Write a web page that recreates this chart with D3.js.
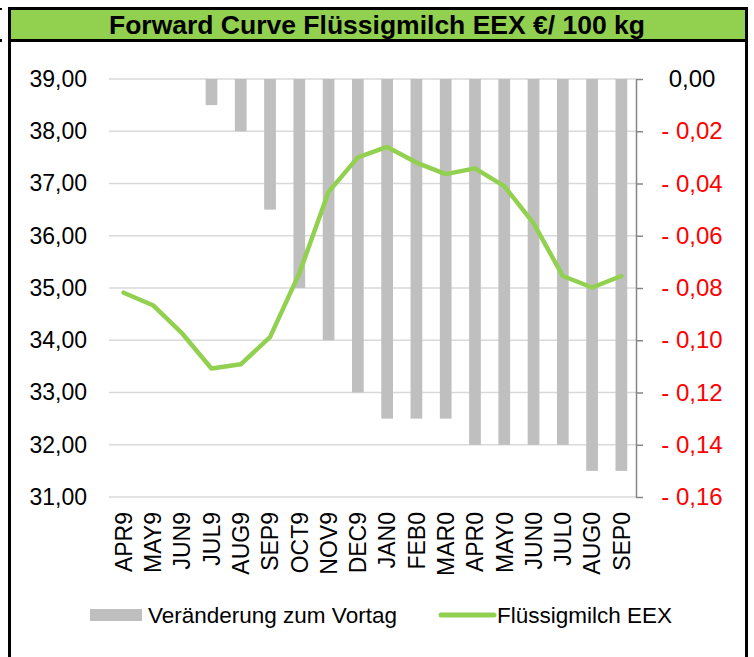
<!DOCTYPE html>
<html>
<head>
<meta charset="utf-8">
<script src="https://cdn.jsdelivr.net/npm/d3@7"></script>
<style>
  html, body { margin: 0; padding: 0; background: #fff; }
  svg { display: block; font-family: "Liberation Sans", Arial, sans-serif; }
</style>
</head>
<body>
<svg id="chart" width="754" height="657"></svg>
<script>
// ---- data ----
const categories = ["APR9","MAY9","JUN9","JUL9","AUG9","SEP9","OCT9","NOV9","DEC9",
                    "JAN0","FEB0","MAR0","APR0","MAY0","JUN0","JUL0","AUG0","SEP0"];
const changeValues = [0, 0, 0, -0.01, -0.02, -0.05, -0.08, -0.10, -0.12,
                      -0.13, -0.13, -0.13, -0.14, -0.14, -0.14, -0.14, -0.15, -0.15];
const priceValues = [34.91, 34.67, 34.13, 33.46, 33.54, 34.06, 35.28, 36.84, 37.50,
                     37.70, 37.40, 37.18, 37.29, 36.95, 36.24, 35.23, 35.01, 35.23];
const leftTicks = [31, 32, 33, 34, 35, 36, 37, 38, 39];
const rightTicks = [0, -0.02, -0.04, -0.06, -0.08, -0.10, -0.12, -0.14, -0.16];
const titleText = "Forward Curve Flüssigmilch EEX €/ 100 kg";
const legendBarLabel = "Veränderung zum Vortag";
const legendLineLabel = "Flüssigmilch EEX";

// ---- layout ----
const svg = d3.select("#chart");
const plot = { left: 109, right: 636, top: 79, bottom: 497 };
const green = "#92D050", barGray = "#BFBFBF", gridGray = "#D9D9D9";

// frame
svg.append("rect").attr("x", 11).attr("y", 10).attr("width", 734).attr("height", 29).attr("fill", green);
const black = [
  [8, 7, 740, 3], [8, 39, 740, 3], [8, 7, 3, 650], [745, 7, 3, 650],
  [0, 8, 2, 2], [0, 39, 2, 3]
];
svg.selectAll("rect.frame").data(black).enter().append("rect")
  .attr("class", "frame")
  .attr("x", d => d[0]).attr("y", d => d[1]).attr("width", d => d[2]).attr("height", d => d[3])
  .attr("fill", "#000");

svg.append("text")
  .attr("x", 377).attr("y", 25).attr("dy", "0.35em")
  .attr("text-anchor", "middle")
  .attr("font-size", 26.5).attr("font-weight", "bold")
  .attr("fill", "#000")
  .text(titleText);

// scales
const x = d3.scaleBand().domain(categories).range([plot.left, plot.right])
  .paddingInner(0.6).paddingOuter(0.3);
const yL = d3.scaleLinear().domain([31, 39]).range([plot.bottom, plot.top]);
const yR = d3.scaleLinear().domain([-0.16, 0]).range([plot.bottom, plot.top]);
const fmt = v => v.toFixed(2).replace(".", ",");

// gridlines
svg.append("g").selectAll("line").data(leftTicks).enter().append("line")
  .attr("x1", plot.left).attr("x2", plot.right)
  .attr("y1", d => yL(d)).attr("y2", d => yL(d))
  .attr("stroke", gridGray).attr("stroke-width", 1.5);

// bars
svg.append("g").selectAll("rect").data(categories.map((c, i) => ({c, v: changeValues[i]}))).enter()
  .append("rect")
  .attr("x", d => x(d.c)).attr("width", x.bandwidth())
  .attr("y", yR(0)).attr("height", d => yR(d.v) - yR(0))
  .attr("fill", barGray);

// line
const pts = categories.map((c, i) => [x(c) + x.bandwidth() / 2, yL(priceValues[i])]);
svg.append("path").attr("d", d3.line()(pts))
  .attr("fill", "none").attr("stroke", green).attr("stroke-width", 4.5)
  .attr("stroke-linejoin", "round").attr("stroke-linecap", "round");

// left axis (labels only)
const axL = svg.append("g").attr("transform", `translate(${plot.left},0)`)
  .call(d3.axisLeft(yL).tickValues(leftTicks).tickFormat(fmt).tickSize(0).tickPadding(22));
axL.select(".domain").remove();
axL.selectAll("text").attr("font-size", 23).attr("fill", "#000")
  .attr("font-family", "Liberation Sans, Arial, sans-serif");

// right axis
const axR = svg.append("g").attr("transform", `translate(${plot.right},0)`)
  .call(d3.axisRight(yR).tickValues(rightTicks)
    .tickFormat(d => Math.abs(d) < 1e-9 ? "0,00" : "- " + fmt(Math.abs(d)))
    .tickSize(7).tickSizeOuter(0).tickPadding(0));
axR.select(".domain").attr("stroke", "#868686").attr("stroke-width", 1.5);
axR.selectAll(".tick line").attr("stroke", "#868686").attr("stroke-width", 1.5);
axR.selectAll("text")
  .attr("x", 56).attr("text-anchor", "middle")
  .attr("font-size", 24)
  .attr("font-family", "Liberation Sans, Arial, sans-serif")
  .attr("fill", d => Math.abs(d) < 1e-9 ? "#000" : "#FF0000");

// x axis labels
const axX = svg.append("g").attr("transform", `translate(0,${plot.bottom})`)
  .call(d3.axisBottom(x).tickSize(0).tickPadding(0));
axX.select(".domain").remove();
axX.selectAll("text")
  .attr("font-size", 23)
  .attr("font-family", "Liberation Sans, Arial, sans-serif")
  .attr("fill", "#000")
  .attr("text-anchor", "end")
  .attr("transform", "translate(0,15) rotate(-90)")
  .attr("x", 0).attr("y", 0).attr("dy", "0.36em");

// legend
const lg = svg.append("g");
lg.append("rect").attr("x", 90).attr("y", 609).attr("width", 52).attr("height", 12).attr("fill", barGray);
lg.append("text").attr("x", 148).attr("y", 615).attr("dy", "0.35em")
  .attr("font-size", 22.5).attr("fill", "#000").text(legendBarLabel);
lg.append("line").attr("x1", 441).attr("x2", 494).attr("y1", 615).attr("y2", 615)
  .attr("stroke", green).attr("stroke-width", 5).attr("stroke-linecap", "round");
lg.append("text").attr("x", 497).attr("y", 615).attr("dy", "0.35em")
  .attr("font-size", 22.5).attr("fill", "#000").text(legendLineLabel);
</script>
</body>
</html>
